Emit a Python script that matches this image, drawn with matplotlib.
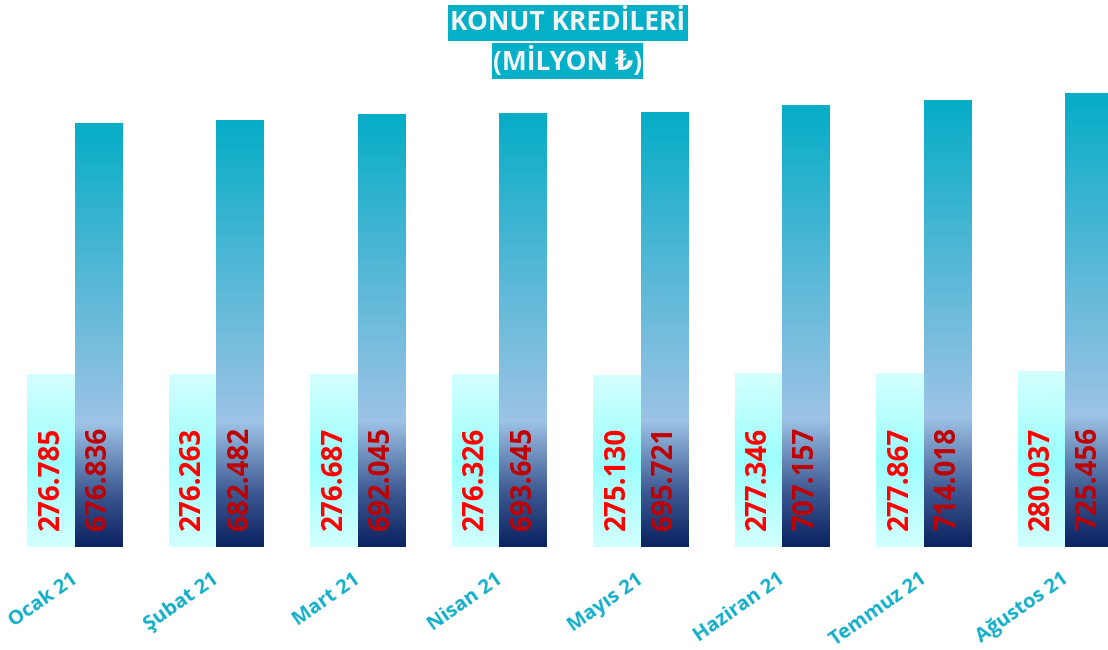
import numpy as np
import matplotlib
matplotlib.use("Agg")
import matplotlib.pyplot as plt
import matplotlib.transforms as mtransforms
from matplotlib.colors import LinearSegmentedColormap
from matplotlib.patches import Rectangle

months = ["Ocak 21", "Şubat 21", "Mart 21", "Nisan 21", "Mayıs 21",
          "Haziran 21", "Temmuz 21", "Ağustos 21"]
series_a = [276.785, 276.263, 276.687, 276.326, 275.130, 277.346, 277.867, 280.037]
series_b = [676.836, 682.482, 692.045, 693.645, 695.721, 707.157, 714.018, 725.456]
title_lines = ["KONUT KREDİLERİ", "(MİLYON ₺)"]

plt.rcParams['font.family'] = ['Open Sans', 'DejaVu Sans']

W, H = 1108, 650
fig = plt.figure(figsize=(W / 100, H / 100), dpi=100)
base_px = 547
ax = fig.add_axes([0, (H - base_px) / H, 1, base_px / H])
for s in ax.spines.values():
    s.set_visible(False)
ax.set_yticks([])

x = np.arange(len(months))
w = 47.5 / 141.5

cmap_b = LinearSegmentedColormap.from_list(
    "b", [(0.0, "#0b2361"), (0.12, "#3b5690"), (0.29, "#9dc3e6"),
          (0.6, "#5db9d8"), (1.0, "#05adc7")])
cmap_a = LinearSegmentedColormap.from_list(
    "a", [(0.0, "#d2fffe"), (0.5, "#9cfffe"), (1.0, "#d4fffe")])
grad = np.linspace(0, 1, 256).reshape(-1, 1)

bars_a = ax.bar(x - w / 2, series_a, width=w, color="none", edgecolor="none")
bars_b = ax.bar(x + w / 2, series_b, width=w, color="none", edgecolor="none")
for bars, cm in ((bars_a, cmap_a), (bars_b, cmap_b)):
    for r in bars:
        x0, y0 = r.get_x(), r.get_y()
        ax.imshow(grad, cmap=cm, origin="lower", aspect="auto",
                  extent=[x0, x0 + r.get_width(), y0, y0 + r.get_height()],
                  zorder=1, interpolation="bicubic")
ax.set_xlim((0 - 75) / 141.5, (W - 75) / 141.5)
ax.set_ylim(0, base_px / 0.625)

for i in range(len(months)):
    ax.annotate(f"{series_a[i]:.3f}", xy=(x[i] - w / 2, 0), xytext=(0, 17 * 0.72),
                textcoords="offset points", rotation=90, rotation_mode="anchor",
                ha="left", va="center", color="#ff0000", fontsize=20,
                fontweight="bold", zorder=3)
    ax.annotate(f"{series_b[i]:.3f}", xy=(x[i] + w / 2, 0), xytext=(0, 17 * 0.72),
                textcoords="offset points", rotation=90, rotation_mode="anchor",
                ha="left", va="center", color="#c00000", fontsize=20,
                fontweight="bold", zorder=3)

ax.set_xticks(x)
ax.set_xticklabels(months, rotation=35, ha="right", rotation_mode="anchor",
                   color="#12aec8", fontsize=14.5, fontweight="bold")
ax.tick_params(axis="x", length=0, pad=16)
shift = mtransforms.ScaledTranslation(-5 / 100, 0, fig.dpi_scale_trans)
for lbl in ax.get_xticklabels():
    lbl.set_transform(lbl.get_transform() + shift)

# title boxes
boxes = [(448, 5, 240, 36), (492, 43, 151, 36)]
for (bx, by, bw, bh), txt in zip(boxes, title_lines):
    fig.patches.append(Rectangle((bx / W, 1 - (by + bh) / H), bw / W, bh / H,
                                 transform=fig.transFigure, facecolor="#03b0c8",
                                 edgecolor="none", zorder=5))
    fig.text((bx + bw / 2) / W, 1 - (by + bh / 2) / H, txt, ha="center",
             va="center", color="#f4f4f4", fontsize=19, fontweight="bold",
             zorder=6)

fig.savefig("out.png", dpi=100)
